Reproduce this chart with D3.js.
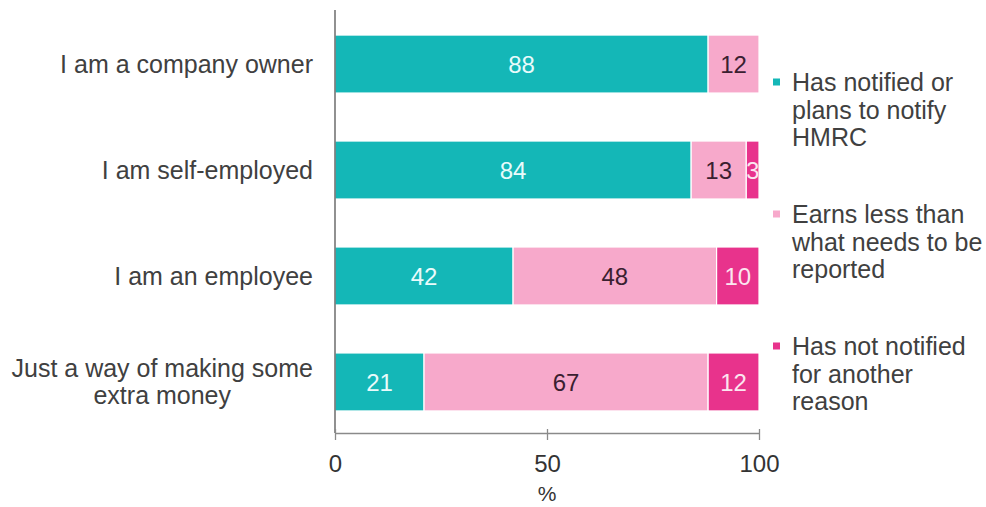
<!DOCTYPE html>
<html>
<head>
<meta charset="utf-8">
<script src="https://cdn.jsdelivr.net/npm/d3@7"></script>
<style>
  html, body { margin: 0; padding: 0; background: #fff; }
  svg { display: block; font-family: "Liberation Sans", Arial, sans-serif; }
</style>
</head>
<body>
<svg id="chart" width="986" height="507"></svg>
<script>
// Survey categories (each may wrap onto several lines)
const categories = [
  ["I am a company owner"],
  ["I am self-employed"],
  ["I am an employee"],
  ["Just a way of making some", "extra money"]
];
// Shares (%) per category for each response
const notified    = [88, 84, 42, 21];
const earnsLess   = [12, 13, 48, 67];
const notNotified = [0, 3, 10, 12];
const seriesNames = [
  ["Has notified or", "plans to notify", "HMRC"],
  ["Earns less than", "what needs to be", "reported"],
  ["Has not notified", "for another", "reason"]
];
const tickValues = [0, 50, 100];
const axisTitle = "%";

const colors = ["#14b7b7", "#f7a9cb", "#e8338c"];
const labelColors = ["#e9fbfb", "#3a2030", "#fbe6f0"];

const svg = d3.select("#chart");
const x = d3.scaleLinear().domain([0, 100]).range([335, 759]);
const y = d3.scaleBand().domain(d3.range(categories.length)).range([11, 435]).paddingInner(0.453).paddingOuter(0.227);

const rows = categories.map((c, i) => ({ i, v: [notified[i], earnsLess[i], notNotified[i]] }));

// Stacked segments
rows.forEach(r => {
  let acc = 0;
  r.v.forEach((val, k) => {
    const x0 = acc, x1 = acc + val;
    acc = x1;
    if (val <= 0) return;
    svg.append("rect")
      .attr("x", x(x0))
      .attr("y", y(r.i))
      .attr("width", x(x1) - x(x0))
      .attr("height", y.bandwidth())
      .attr("fill", colors[k])
      .attr("stroke", "#fff")
      .attr("stroke-width", 1.2);
    // value label, clipped to its segment
    const clipId = `clip-${r.i}-${k}`;
    svg.append("clipPath").attr("id", clipId)
      .append("rect")
      .attr("x", x(x0) + 1).attr("y", y(r.i))
      .attr("width", Math.max(0, x(x1) - x(x0) - 2)).attr("height", y.bandwidth());
    svg.append("text")
      .attr("clip-path", `url(#${clipId})`)
      .attr("x", (x(x0) + x(x1)) / 2)
      .attr("y", y(r.i) + y.bandwidth() / 2)
      .attr("dy", "0.36em")
      .attr("text-anchor", "middle")
      .attr("font-size", 24)
      .attr("fill", labelColors[k])
      .text(val);
  });
});

// Category axis line
svg.append("line")
  .attr("x1", x(0)).attr("x2", x(0))
  .attr("y1", 10).attr("y2", 433)
  .attr("stroke", "#555").attr("stroke-width", 1.3);

// Value axis
const xAxis = d3.axisBottom(x).tickValues(tickValues).tickSize(8).tickPadding(14).tickSizeOuter(0);
const gx = svg.append("g").attr("transform", "translate(0,433)").call(xAxis);
gx.select(".domain").attr("stroke", "#8a8a8a").attr("stroke-width", 1.3);
gx.selectAll(".tick line").attr("stroke", "#8a8a8a").attr("stroke-width", 1.3).attr("y1", -4).attr("y2", 7);
gx.selectAll(".tick text")
  .attr("font-size", 24)
  .attr("font-family", "Liberation Sans, Arial, sans-serif")
  .attr("fill", "#333");

svg.append("text")
  .attr("x", x(50)).attr("y", 493).attr("dy", "0.36em")
  .attr("text-anchor", "middle").attr("font-size", 21).attr("fill", "#333")
  .text(axisTitle);

// Category labels (right-aligned block, lines centred within it)
const labelRight = 313;
const lineH = 27;
categories.forEach((lines, i) => {
  const cy = y(i) + y.bandwidth() / 2;
  const t = svg.append("text")
    .attr("font-size", 25)
    .attr("fill", "#404040");
  const spans = lines.map((ln, j) =>
    t.append("tspan").attr("y", cy + (j - (lines.length - 1) / 2) * lineH).attr("dy", "0.36em").text(ln));
  if (lines.length === 1) {
    t.attr("text-anchor", "end");
    spans[0].attr("x", labelRight);
  } else {
    const w = d3.max(spans, s => s.node().getComputedTextLength());
    t.attr("text-anchor", "middle");
    spans.forEach(s => s.attr("x", labelRight - w / 2));
  }
});

// Legend
const legendX = 773, legendTextX = 792;
const legendTops = [82, 214, 346];
seriesNames.forEach((lines, k) => {
  const top = legendTops[k];
  svg.append("rect")
    .attr("x", legendX).attr("y", top - 3.5)
    .attr("width", 7).attr("height", 7)
    .attr("fill", colors[k]);
  const t = svg.append("text").attr("font-size", 25).attr("fill", "#404040");
  lines.forEach((ln, j) => {
    t.append("tspan").attr("x", legendTextX).attr("y", top + j * 27.5).attr("dy", "0.36em").text(ln);
  });
});
</script>
</body>
</html>
